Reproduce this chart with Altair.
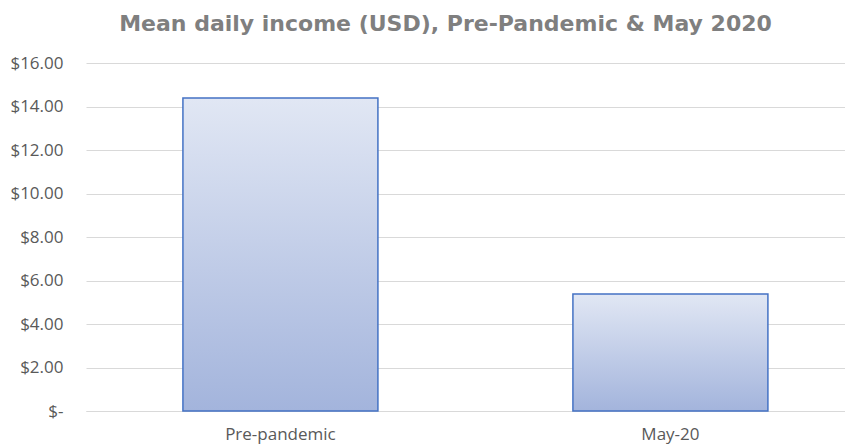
import altair as alt
import pandas as pd

categories = ["Pre-pandemic", "May-20"]
values = [14.39, 5.38]
y_ticks = [0, 2, 4, 6, 8, 10, 12, 14, 16]

df = pd.DataFrame({"period": categories, "income": values})

gradient = alt.Gradient(
    gradient="linear",
    stops=[
        alt.GradientStop(color="#e1e7f4", offset=0),
        alt.GradientStop(color="#a3b4dc", offset=1),
    ],
    x1=0, x2=0, y1=0, y2=1,
)

chart = (
    alt.Chart(df)
    .mark_bar(color=gradient, stroke="#4472c4", strokeWidth=1.5)
    .encode(
        x=alt.X(
            "period:N",
            sort=categories,
            title=None,
            scale=alt.Scale(paddingInner=0.5, paddingOuter=0.2231, align=0.557),
            axis=alt.Axis(
                labelAngle=0,
                ticks=False,
                domainColor="#d9d9d9",
                domainWidth=1,
                labelColor="#595959",
                labelFont="Open Sans",
                labelFontSize=17,
                labelPadding=15,
            ),
        ),
        y=alt.Y(
            "income:Q",
            title=None,
            scale=alt.Scale(domain=[0, 16], nice=False),
            axis=alt.Axis(
                values=y_ticks,
                grid=True,
                gridColor="#d9d9d9",
                gridWidth=1,
                domain=False,
                ticks=False,
                labelColor="#595959",
                labelFont="Open Sans",
                labelFontSize=17,
                labelPadding=23,
                labelExpr="datum.value == 0 ? '$-\u00a0\u00a0' : '$' + format(datum.value, '.2f')",
            ),
        ),
    )
    .properties(
        width=759,
        height=348,
        autosize=alt.AutoSizeParams(type="none"),
        padding={"left": 78, "top": 55, "right": 0, "bottom": 36},
        title=alt.TitleParams(
            "Mean daily income (USD), Pre-Pandemic & May 2020",
            font="DejaVu Sans",
            fontSize=22,
            fontWeight="bold",
            color="#7f7f7f",
            anchor="middle",
            dx=-20,
            offset=18,
        ),
    )
    .configure_view(stroke=None)
)

chart.save("out.html", embed_options={"renderer": "svg", "actions": False})
